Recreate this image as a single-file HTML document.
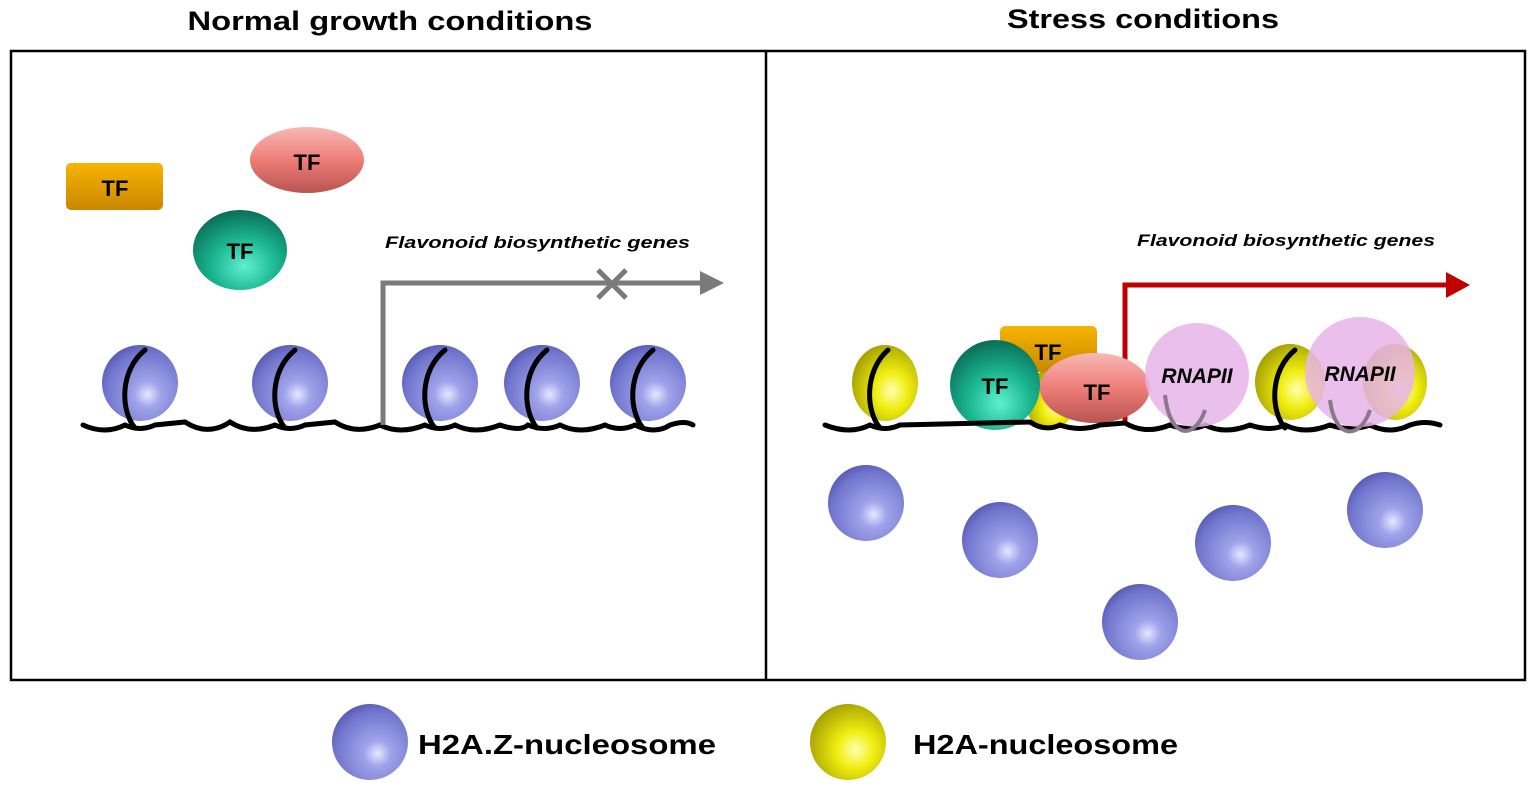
<!DOCTYPE html>
<html><head><meta charset="utf-8"><style>html,body{margin:0;padding:0;background:#fff}svg{display:block}</style></head>
<body>
<svg width="1536" height="791" viewBox="0 0 1536 791" xmlns="http://www.w3.org/2000/svg" font-family="Liberation Sans, sans-serif">
<defs>
<radialGradient id="blue" cx="0.6" cy="0.65" r="0.7"><stop offset="0" stop-color="#e6e8ff"/><stop offset="0.25" stop-color="#9fa3ea"/><stop offset="0.8" stop-color="#7074cc"/><stop offset="1" stop-color="#5558b0"/></radialGradient>
<radialGradient id="yel" cx="0.6" cy="0.6" r="0.7"><stop offset="0" stop-color="#ffffb0"/><stop offset="0.35" stop-color="#f0ee10"/><stop offset="1" stop-color="#9a9400"/></radialGradient>
<radialGradient id="teal" cx="0.55" cy="0.7" r="0.7"><stop offset="0" stop-color="#5ff0d0"/><stop offset="0.5" stop-color="#1ab590"/><stop offset="1" stop-color="#0a6e58"/></radialGradient>
<linearGradient id="pink" x1="0" y1="0" x2="0" y2="1"><stop offset="0" stop-color="#f8b8b4"/><stop offset="0.5" stop-color="#ee7d78"/><stop offset="1" stop-color="#b85450"/></linearGradient>
<linearGradient id="org" x1="0" y1="0" x2="0" y2="1"><stop offset="0" stop-color="#f7b400"/><stop offset="1" stop-color="#c98800"/></linearGradient>
<filter id="sh" x="-50%" y="-50%" width="200%" height="200%"><feGaussianBlur stdDeviation="6"/></filter>
</defs>
<text x="390" y="30" text-anchor="middle" font-weight="bold" font-size="27" textLength="405" lengthAdjust="spacingAndGlyphs">Normal growth conditions</text>
<text x="1143" y="28" text-anchor="middle" font-weight="bold" font-size="27" textLength="272" lengthAdjust="spacingAndGlyphs">Stress conditions</text>
<rect x="11" y="51" width="1514" height="629" fill="none" stroke="#000" stroke-width="2.5"/>
<line x1="766" y1="51" x2="766" y2="680" stroke="#000" stroke-width="2.5"/>

<!-- left TFs -->
<rect x="66" y="163" width="97" height="47" rx="5" fill="url(#org)"/>
<text x="115" y="196" text-anchor="middle" font-weight="bold" font-size="22">TF</text>
<ellipse cx="307" cy="160" rx="57" ry="33" fill="url(#pink)"/>
<text x="307" y="170" text-anchor="middle" font-weight="bold" font-size="22">TF</text>
<ellipse cx="240" cy="250" rx="47" ry="40" fill="url(#teal)"/>
<text x="240" y="259" text-anchor="middle" font-weight="bold" font-size="22">TF</text>
<text x="385" y="248" font-weight="bold" font-style="italic" font-size="17" textLength="305" lengthAdjust="spacingAndGlyphs">Flavonoid biosynthetic genes</text>

<!-- left nucleosomes -->
<g>
<circle cx="140" cy="383" r="38" fill="url(#blue)"/>
<circle cx="290" cy="383" r="38" fill="url(#blue)"/>
<circle cx="440" cy="383" r="38" fill="url(#blue)"/>
<circle cx="542" cy="383" r="38" fill="url(#blue)"/>
<circle cx="648" cy="383" r="38" fill="url(#blue)"/>
</g>
<g fill="none" stroke="#000" stroke-width="5" stroke-linecap="round">
<path d="M83,425 Q105,435 125,425 Q140,432 155,425 L185,422 Q205,435 225,425 L230,422 Q250,435 275,425 Q290,432 305,425 L335,422 Q355,435 380,425 Q400,435 425,425 Q440,432 455,425 Q475,435 500,425 Q520,432 528,425 Q545,432 560,425 Q580,435 605,425 Q620,432 635,425 Q655,435 670,425 Q685,420 693,425"/>
<path d="M145,350 C120,370 120,410 135,428"/>
<path d="M295,350 C270,370 270,410 285,428"/>
<path d="M445,350 C420,370 420,410 435,428"/>
<path d="M547,350 C522,370 522,410 537,428"/>
<path d="M653,350 C628,370 628,410 643,428"/>
</g>
<path d="M383,425 V283 H708" fill="none" stroke="#7a7a7a" stroke-width="5"/>
<polygon points="700,271 724,283 700,295" fill="#7a7a7a"/>
<path d="M598,270 L626,298 M626,270 L598,298" stroke="#7a7a7a" stroke-width="5"/>

<!-- right -->
<text x="1137" y="246" font-weight="bold" font-style="italic" font-size="17" textLength="298" lengthAdjust="spacingAndGlyphs">Flavonoid biosynthetic genes</text>
<ellipse cx="885" cy="383" rx="33" ry="38" fill="url(#yel)"/>
<ellipse cx="1050" cy="400" rx="25" ry="30" fill="url(#yel)"/>
<ellipse cx="1290" cy="382" rx="35" ry="38" fill="url(#yel)"/>
<ellipse cx="1395" cy="382" rx="32" ry="38" fill="url(#yel)"/>
<rect x="1000" y="326" width="97" height="46" rx="5" fill="url(#org)"/>
<text x="1048" y="360" text-anchor="middle" font-weight="bold" font-size="22">TF</text>
<circle cx="995" cy="385" r="45" fill="url(#teal)"/>
<text x="995" y="394" text-anchor="middle" font-weight="bold" font-size="22">TF</text>
<path d="M1125,425 V285 H1452" fill="none" stroke="#c00000" stroke-width="5"/>
<polygon points="1446,272 1470,285 1446,298" fill="#c00000"/>
<ellipse cx="1095" cy="388" rx="55" ry="35" fill="url(#pink)"/>
<text x="1097" y="400" text-anchor="middle" font-weight="bold" font-size="22">TF</text>
<g fill="none" stroke="#000" stroke-width="5" stroke-linecap="round">
<path d="M825,425 Q850,435 870,425 Q885,432 900,425 L1030,422 Q1045,432 1060,425 Q1080,432 1100,425 L1125,423 Q1145,435 1170,425 Q1190,432 1205,425 Q1225,435 1250,425 Q1270,432 1285,425 Q1305,435 1330,425 Q1350,432 1370,425 Q1390,435 1410,425 Q1425,420 1440,425"/>
<path d="M888,350 C865,370 865,410 880,428"/>
<path d="M1295,350 C1270,370 1270,410 1285,428"/>
</g>
<circle cx="1197" cy="375" r="52" fill="#e8b4e8" fill-opacity="0.85"/>
<circle cx="1360" cy="372" r="55" fill="#e8b4e8" fill-opacity="0.85"/>
<g fill="none" stroke="#8a7a88" stroke-width="4"><path d="M1165,395 C1170,440 1195,440 1205,410"/><path d="M1330,400 C1335,440 1360,440 1370,410"/></g>
<text x="1197" y="383" text-anchor="middle" font-weight="bold" font-style="italic" font-size="21">RNAPII</text>
<text x="1360" y="381" text-anchor="middle" font-weight="bold" font-style="italic" font-size="21">RNAPII</text>

<g>
<circle cx="866" cy="503" r="38" fill="url(#blue)"/>
<circle cx="1000" cy="540" r="38" fill="url(#blue)"/>
<circle cx="1233" cy="543" r="38" fill="url(#blue)"/>
<circle cx="1140" cy="622" r="38" fill="url(#blue)"/>
<circle cx="1385" cy="510" r="38" fill="url(#blue)"/>
</g>

<!-- legend -->
<circle cx="370" cy="742" r="38" fill="url(#blue)"/>
<text x="418" y="754" font-weight="bold" font-size="28" textLength="298" lengthAdjust="spacingAndGlyphs">H2A.Z-nucleosome</text>
<circle cx="848" cy="742" r="38" fill="url(#yel)"/>
<text x="913" y="754" font-weight="bold" font-size="28" textLength="265" lengthAdjust="spacingAndGlyphs">H2A-nucleosome</text>
</svg>
</body></html>
